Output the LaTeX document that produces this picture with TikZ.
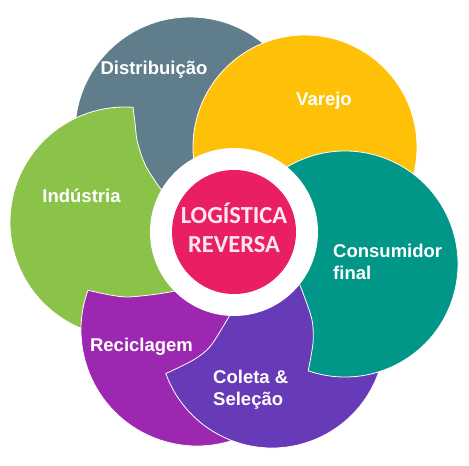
\documentclass[tikz,border=0pt]{standalone}
\usepackage{fontspec}
\setmainfont{Liberation Sans}
\newfontfamily\calib{Carlito}
\definecolor{cgray}{HTML}{607D8B}
\definecolor{cyellow}{HTML}{FFC107}
\definecolor{cteal}{HTML}{009688}
\definecolor{cdeep}{HTML}{673AB7}
\definecolor{cpurple}{HTML}{9C27B0}
\definecolor{cgreen}{HTML}{8BC34A}
\definecolor{cpink}{HTML}{E91E63}
\definecolor{ctext}{HTML}{FDE7EF}
\begin{document}
\begin{tikzpicture}[x=1pt,y=1pt,
  blade/.style={draw=white,line width=0.8pt},
  lbl/.style={text=white,font=\fontsize{18.5}{22}\selectfont\bfseries,inner sep=0pt},
  ctr/.style={text=ctext,font=\calib\fontsize{24.5}{29}\selectfont\bfseries,inner sep=0pt}]
\useasboundingbox (0,0) rectangle (469,466);
\fill[white] (0,0) rectangle (469,466);
% Distribuicao (bottom of stack)
\filldraw[blade,fill=cgray] (190,334) circle[radius=115];
% Varejo
\filldraw[blade,fill=cyellow] (305,319) circle[radius=112];
% Industria
\filldraw[blade,fill=cgreen] ([shift={(125,244)}]86:115) arc[start angle=86,end angle=390,radius=115]
  -- plot[smooth] coordinates {(170,268) (160,278) (148,296) (142,309) (137,326) (135,343) (133.0,358.7)} -- cycle;
% Reciclagem
\filldraw[blade,fill=cpurple] ([shift={(197,136)}]160:116) arc[start angle=160,end angle=470,radius=116]
  -- plot[smooth] coordinates {(186,178) (170,174) (150,171) (127,169) (110,171) (88.0,175.7)} -- cycle;
% Coleta & Selecao
\filldraw[blade,fill=cdeep] ([shift={(272,131)}]200:113) arc[start angle=200,end angle=510,radius=113]
  -- plot[smooth] coordinates {(237,164) (227,146) (210,119.3) (193.3,106) (165.8,92.4)} -- cycle;
% Consumidor final
\filldraw[blade,fill=cteal] ([shift={(345,202)}]251:113) arc[start angle=251,end angle=560,radius=113]
  -- plot[smooth] coordinates {(297,188) (303,173) (312,146) (313,123) (308.2,95.2)} -- cycle;
% centre
\fill[white] (234,234) circle[radius=84];
\fill[cpink] (234,234) circle[radius=62];
\node[ctr,anchor=base] (lg1) at (234,242) {LOGÍSTICA};
\node[ctr,anchor=base] (lg2) at (234,213) {REVERSA};
% labels
\node[lbl,anchor=base] (dist) at (154,391) {Distribuição};
\node[lbl,anchor=base] (var) at (324,360.5) {Varejo};
\node[lbl,anchor=base] (ind) at (81.5,263) {Indústria};
\node[lbl,anchor=base west] (con1) at (333,208) {Consumidor};
\node[lbl,anchor=base west] (con2) at (333,186) {final};
\node[lbl,anchor=base] (rec) at (141.5,114.3) {Reciclagem};
\node[lbl,anchor=base west] (col1) at (213,82.5) {Coleta \&};
\node[lbl,anchor=base west] (col2) at (213,60.5) {Seleção};
\end{tikzpicture}
\end{document}
